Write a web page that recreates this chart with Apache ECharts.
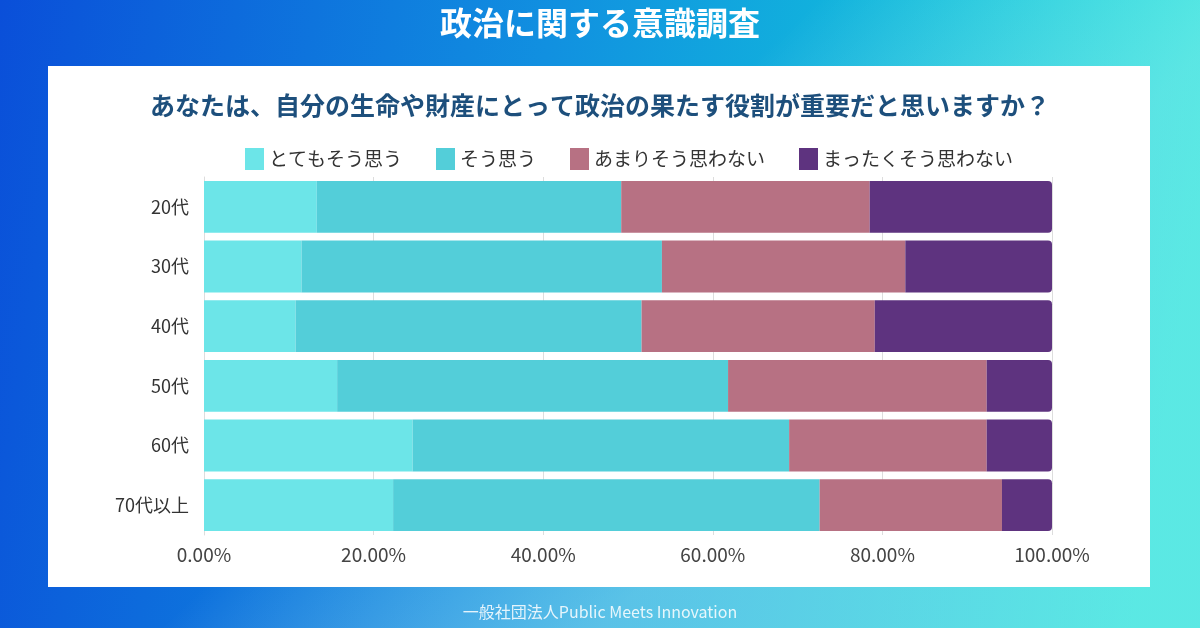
<!DOCTYPE html>
<html>
<head>
<meta charset="utf-8">
<script src="https://cdn.jsdelivr.net/npm/echarts@6/dist/echarts.min.js"></script>
<style>
  html, body { margin: 0; padding: 0; }
  #chart { width: 1200px; height: 628px; }
</style>
</head>
<body>
<div id="chart"></div>
<script>
// カテゴリ（年代）
const ageGroups = ['20代', '30代', '40代', '50代', '60代', '70代以上'];

// 回答区分
const answerNames = ['とてもそう思う', 'そう思う', 'あまりそう思わない', 'まったくそう思わない'];

// 各回答の割合（%）
const veryMuch = [13.3, 11.5, 10.8, 15.7, 24.6, 22.3];
const somewhat = [35.9, 42.5, 40.8, 46.1, 44.4, 50.3];
const notMuch = [29.3, 28.7, 27.5, 30.5, 23.3, 21.5];
const notAtAll = [21.5, 17.3, 20.9, 7.7, 7.7, 5.9];

// x軸の目盛
const xTicks = [0, 20, 40, 60, 80, 100];

const colors = ['#6ce5e8', '#53ced9', '#b77183', '#5e337f'];
const font = '"Noto Sans CJK JP", "Noto Sans", sans-serif';

const chart = echarts.init(document.getElementById('chart'));

const seriesData = [veryMuch, somewhat, notMuch, notAtAll];

const option = {
    backgroundColor: {
        type: 'linear',
        x: 0, y: 0, x2: 1, y2: 0.3,
        colorStops: [
            { offset: 0, color: '#0a4fd9' },
            { offset: 0.45, color: '#1190e0' },
            { offset: 1, color: '#12e3d8' }
        ]
    },
    textStyle: { fontFamily: font },
    graphic: [
        {
            // 右下の明るい部分
            type: 'rect',
            shape: { x: 0, y: 0, width: 1200, height: 628 },
            style: {
                fill: {
                    type: 'linear',
                    x: 0, y: 0, x2: 0.5, y2: 1,
                    colorStops: [
                        { offset: 0, color: 'rgba(255,255,255,0)' },
                        { offset: 0.65, color: 'rgba(255,255,255,0)' },
                        { offset: 1, color: 'rgba(200,240,245,0.4)' }
                    ]
                }
            },
            z: -10
        },
        {
            // 白いパネル
            type: 'rect',
            shape: { x: 48, y: 66, width: 1102, height: 521 },
            style: { fill: '#ffffff' },
            z: -5
        },
        {
            type: 'text',
            left: 'center',
            top: 604,
            style: {
                text: '一般社団法人Public Meets Innovation',
                fill: 'rgba(255,255,255,0.85)',
                font: '16px ' + font
            }
        }
    ],
    title: [
        {
            text: '政治に関する意識調査',
            left: 'center',
            top: 2,
            textStyle: { color: '#ffffff', fontSize: 32, fontWeight: 'bold', fontFamily: font }
        },
        {
            text: 'あなたは、自分の生命や財産にとって政治の果たす役割が重要だと思いますか？',
            left: 'center',
            top: 88,
            textStyle: { color: '#1d4f7c', fontSize: 25, fontWeight: 'bold', fontFamily: font }
        }
    ],
    legend: {
        top: 143,
        left: 240,
        icon: 'rect',
        itemWidth: 19,
        itemHeight: 22,
        itemGap: 34,
        data: answerNames,
        textStyle: { fontSize: 19, color: '#333333', fontFamily: font }
    },
    grid: {
        left: 204,
        right: 148,
        top: 177,
        bottom: 93,
        containLabel: false
    },
    xAxis: {
        type: 'value',
        min: 0,
        max: 100,
        interval: 20,
        axisLine: { show: false },
        axisTick: { show: false },
        splitLine: { show: true, lineStyle: { color: '#dddddd', width: 1 } },
        axisLabel: {
            fontSize: 19,
            color: '#444444',
            margin: 10,
            formatter: v => xTicks.includes(v) ? v.toFixed(2) + '%' : ''
        }
    },
    yAxis: {
        type: 'category',
        inverse: true,
        data: ageGroups,
        axisLine: { show: true, lineStyle: { color: '#dddddd' } },
        axisTick: { show: false },
        axisLabel: { fontSize: 18, color: '#333333', margin: 15 }
    },
    series: seriesData.map((vals, i) => ({
        name: answerNames[i],
        type: 'bar',
        stack: 'total',
        data: vals,
        barCategoryGap: '13%',
        itemStyle: {
            color: colors[i],
            borderRadius: i === 3 ? [0, 4, 4, 0] : 0
        }
    })),
    animation: false
};

chart.setOption(option);
</script>
</body>
</html>
